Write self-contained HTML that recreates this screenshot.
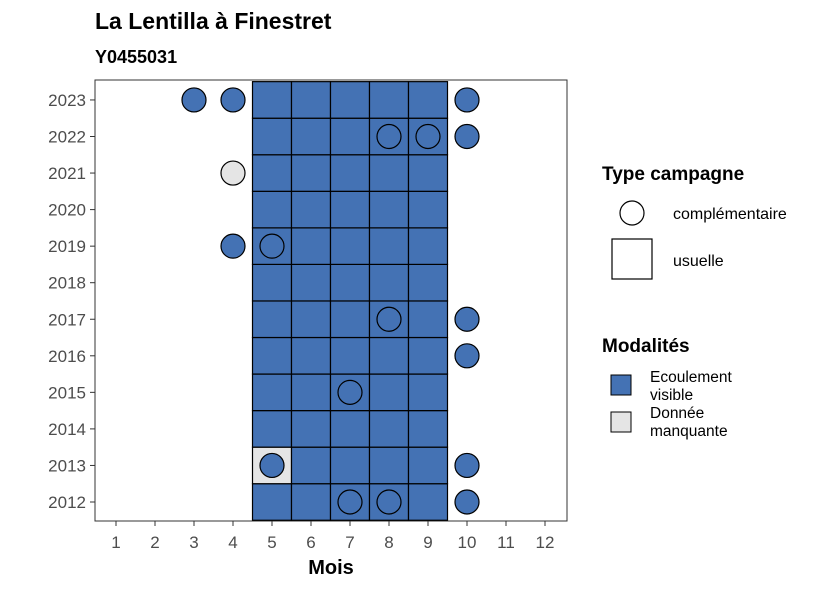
<!DOCTYPE html>
<html><head><meta charset="utf-8"><style>
body{margin:0;background:#fff;font-family:"Liberation Sans",sans-serif}
</style></head><body>
<svg id="c" width="826" height="590" xmlns="http://www.w3.org/2000/svg">
<text x="95" y="29" font-size="23" font-weight="bold">La Lentilla à Finestret</text>
<text x="95" y="63" font-size="18" font-weight="bold">Y0455031</text>
<g id="plot"></g>
<text x="331" y="574" font-size="20" font-weight="bold" text-anchor="middle">Mois</text>
<g>
<text x="602" y="180" font-size="19" font-weight="bold">Type campagne</text>
<circle cx="632" cy="213" r="12" fill="#fff" stroke="#000" stroke-width="1.2"/>
<text x="673" y="219" font-size="16">complémentaire</text>
<rect x="612" y="239" width="40" height="40" fill="#fff" stroke="#000" stroke-width="1.2"/>
<text x="673" y="266" font-size="16">usuelle</text>
</g>
<g>
<text x="602" y="352" font-size="19" font-weight="bold">Modalités</text>
<rect x="611" y="375" width="20" height="20" fill="#4472b4" stroke="#000"/>
<text x="650" y="382" font-size="15.5"><tspan x="650">Ecoulement</tspan><tspan x="650" dy="18">visible</tspan></text>
<rect x="611" y="412" width="20" height="20" fill="#e5e5e5" stroke="#000"/>
<text x="650" y="418" font-size="15.5"><tspan x="650">Donnée</tspan><tspan x="650" dy="18">manquante</tspan></text>
</g>
</svg>
<script>
const years=[2012,2013,2014,2015,2016,2017,2018,2019,2020,2021,2022,2023];
const months=[1,2,3,4,5,6,7,8,9,10,11,12];
const tileMonths=[5,6,7,8,9];
const tileMissing=[[2013,5]];
const circleYears=[2023,2023,2023,2022,2022,2022,2021,2019,2019,2017,2017,2016,2015,2013,2013,2012,2012,2012];
const circleMonths=[3,4,10,8,9,10,4,4,5,8,10,10,7,5,10,7,8,10];
const circleMissing=[0,0,0,0,0,0,1,0,0,0,0,0,0,0,0,0,0,0];
const BLUE="#4472b4",GREY="#e5e5e5",NS="http://www.w3.org/2000/svg";
const X=m=>116+(m-1)*39, Y=y=>502-(y-2012)*36.55;
const g=document.getElementById('plot');
function mk(t,a){const e=document.createElementNS(NS,t);for(const k in a)e.setAttribute(k,a[k]);g.appendChild(e);return e;}
const frame=mk('rect',{x:95,y:80,width:472,height:441,fill:'#fff',stroke:'#333','stroke-width':1});


years.forEach(y=>tileMonths.forEach(m=>{
 const miss=tileMissing.some(t=>t[0]===y&&t[1]===m);
 const r=mk('rect',{x:X(m)-19.5,y:Y(y)-18.3,width:39,height:36.55,fill:miss?GREY:BLUE,stroke:'#000','stroke-width':1.2});
 
 
}));
circleYears.forEach((y,i)=>{
 const c=mk('circle',{cx:X(circleMonths[i]),cy:Y(y),r:12,fill:circleMissing[i]?GREY:BLUE,stroke:'#000','stroke-width':1.2});
 
 
});
years.forEach(y=>{
 mk('line',{x1:90,x2:95,y1:Y(y),y2:Y(y),stroke:'#333'});
 const t=mk('text',{x:86,y:Y(y)+6,'font-size':17,'text-anchor':'end',fill:'#4d4d4d'});t.textContent=y;
 
 
});
months.forEach(m=>{
 mk('line',{x1:X(m),x2:X(m),y1:521,y2:526,stroke:'#333'});
 const t=mk('text',{x:X(m),y:548,'font-size':17,'text-anchor':'middle',fill:'#4d4d4d'});t.textContent=m;
 
 
});
</script>
</body></html>
